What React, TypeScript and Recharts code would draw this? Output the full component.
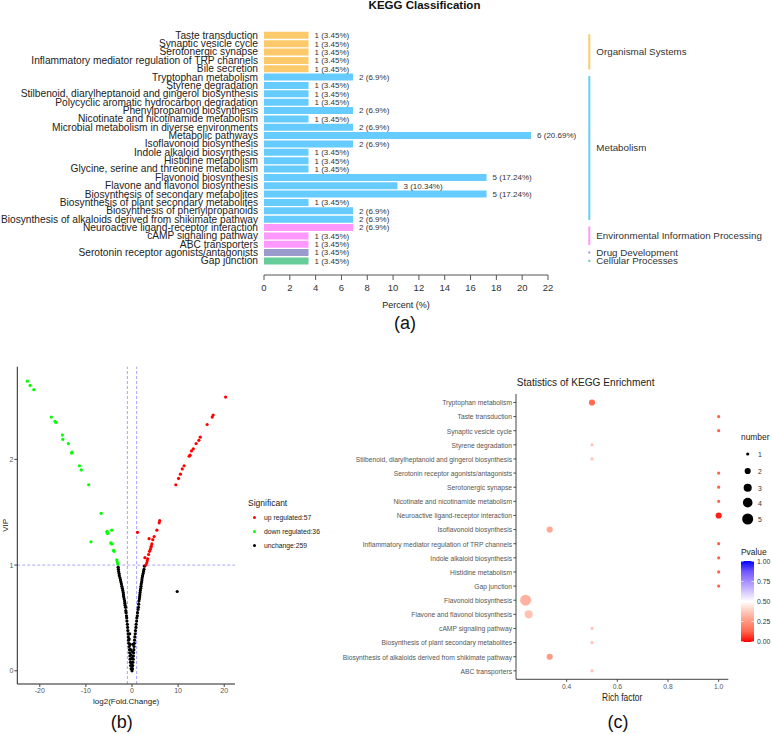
import React from "react";
import {
  Bar,
  BarChart,
  Cell,
  LabelList,
  Legend,
  ReferenceLine,
  Scatter,
  ScatterChart,
  XAxis,
  YAxis,
  ZAxis,
} from "recharts";

const FONT = '"Liberation Sans", Arial, sans-serif';

// ---------- (a) KEGG classification ----------
const pathways = [
  "Taste transduction",
  "Synaptic vesicle cycle",
  "Serotonergic synapse",
  "Inflammatory mediator regulation of TRP channels",
  "Bile secretion",
  "Tryptophan metabolism",
  "Styrene degradation",
  "Stilbenoid, diarylheptanoid and gingerol biosynthesis",
  "Polycyclic aromatic hydrocarbon degradation",
  "Phenylpropanoid biosynthesis",
  "Nicotinate and nicotinamide metabolism",
  "Microbial metabolism in diverse environments",
  "Metabolic pathways",
  "Isoflavonoid biosynthesis",
  "Indole alkaloid biosynthesis",
  "Histidine metabolism",
  "Glycine, serine and threonine metabolism",
  "Flavonoid biosynthesis",
  "Flavone and flavonol biosynthesis",
  "Biosynthesis of secondary metabolites",
  "Biosynthesis of plant secondary metabolites",
  "Biosynthesis of phenylpropanoids",
  "Biosynthesis of alkaloids derived from shikimate pathway",
  "Neuroactive ligand-receptor interaction",
  "cAMP signaling pathway",
  "ABC transporters",
  "Serotonin receptor agonists/antagonists",
  "Gap junction",
];
const pathwayCounts = [1, 1, 1, 1, 1, 2, 1, 1, 1, 2, 1, 2, 6, 2, 1, 1, 1, 5, 3, 5, 1, 2, 2, 2, 1, 1, 1, 1];
const pathwayPercents = [
  3.45, 3.45, 3.45, 3.45, 3.45, 6.9, 3.45, 3.45, 3.45, 6.9, 3.45, 6.9, 20.69, 6.9, 3.45, 3.45, 3.45,
  17.24, 10.34, 17.24, 3.45, 6.9, 6.9, 6.9, 3.45, 3.45, 3.45, 3.45,
];
const OS = "Organismal Systems";
const MET = "Metabolism";
const EIP = "Environmental Information Processing";
const DD = "Drug Development";
const CP = "Cellular Processes";
const pathwayClass = [
  OS, OS, OS, OS, OS,
  MET, MET, MET, MET, MET, MET, MET, MET, MET, MET, MET, MET, MET, MET, MET, MET, MET, MET,
  EIP, EIP, EIP,
  DD,
  CP,
];
const classNames = [OS, MET, EIP, DD, CP];
const percentTicks = [0, 2, 4, 6, 8, 10, 12, 14, 16, 18, 20, 22];

const classColor: Record<string, string> = {
  [OS]: "#FDCA6B",
  [MET]: "#66CCFF",
  [EIP]: "#FF99FF",
  [DD]: "#9A9ACD",
  [CP]: "#66CC99",
};

// ---------- (b) volcano ----------
const upPoints: [number, number][] = [
  [20.3, 2.59], [17.6, 2.42], [17.4, 2.4], [16.3, 2.33], [14.8, 2.21], [14.5, 2.18], [13.9, 2.15],
  [13.3, 2.1], [12.9, 2.08], [12.6, 2.04], [12.4, 2.03], [11.3, 1.94], [10.9, 1.91], [10.5, 1.86],
  [10.1, 1.82], [9.5, 1.76], [6.0, 1.42], [5.9, 1.4], [5.4, 1.33], [4.8, 1.27], [4.5, 1.24],
  [4.3, 1.2], [4.1, 1.17], [3.8, 1.13], [3.6, 1.1], [3.4, 1.06], [3.2, 1.02], [2.8, 1.07],
  [3.7, 1.25], [1.2, 1.31], [3.0, 1.0], [3.3, 1.04], [4.0, 1.15], [4.2, 1.18],
];
const downPoints: [number, number][] = [
  [-22.7, 2.74], [-22.1, 2.7], [-21.3, 2.66], [-17.5, 2.4], [-16.7, 2.36], [-16.5, 2.35],
  [-15.1, 2.23], [-15.0, 2.19], [-13.8, 2.15], [-13.1, 2.06], [-13.0, 2.07], [-11.4, 1.94],
  [-11.0, 1.9], [-9.4, 1.76], [-6.7, 1.49], [-5.4, 1.32], [-5.3, 1.3], [-5.4, 1.31], [-4.4, 1.33],
  [-8.9, 1.22], [-4.6, 1.21], [-4.4, 1.2], [-4.0, 1.14], [-3.9, 1.13], [-3.3, 1.05], [-3.2, 1.03],
  [-3.1, 1.01],
];
const unchangedPoints: [number, number][] = [
  [-3.0, 0.98], [-2.95, 0.96], [-2.9, 0.94], [-2.8, 0.92], [-2.75, 0.9], [-2.6, 0.88], [-2.5, 0.86],
  [-2.4, 0.84], [-2.3, 0.82], [-2.2, 0.8], [-2.1, 0.78], [-2.0, 0.76], [-1.9, 0.74], [-1.85, 0.72],
  [-1.8, 0.7], [-1.7, 0.68], [-1.6, 0.66], [-1.55, 0.64], [-1.5, 0.62], [-1.4, 0.6], [-1.35, 0.57],
  [-1.3, 0.55], [-1.2, 0.52], [-1.15, 0.5], [-1.1, 0.47], [-1.0, 0.44], [-0.95, 0.41], [-0.9, 0.38],
  [-0.85, 0.35], [-0.8, 0.32], [-0.75, 0.29], [-0.7, 0.26], [-0.6, 0.23], [-0.55, 0.2], [-0.5, 0.17],
  [-0.45, 0.14], [-0.4, 0.11], [-0.35, 0.08], [-0.3, 0.05], [-0.2, 0.02], [0.0, 0.0],
  [2.7, 0.99], [2.6, 0.96], [2.5, 0.94], [2.4, 0.92], [2.3, 0.9], [2.2, 0.88], [2.15, 0.86],
  [2.1, 0.84], [2.0, 0.82], [1.95, 0.8], [1.9, 0.78], [1.8, 0.76], [1.75, 0.74], [1.7, 0.72],
  [1.65, 0.7], [1.6, 0.68], [1.5, 0.66], [1.45, 0.63], [1.4, 0.6], [1.3, 0.58], [1.2, 0.55],
  [1.15, 0.52], [1.05, 0.5], [1.0, 0.47], [0.9, 0.44], [0.85, 0.41], [0.75, 0.38], [0.7, 0.35],
  [0.6, 0.32], [0.55, 0.29], [0.5, 0.26], [0.45, 0.23], [0.4, 0.2], [0.35, 0.17], [0.3, 0.14],
  [0.25, 0.11], [0.2, 0.08], [0.15, 0.05], [0.1, 0.02],
  [-0.6, 0.3], [-0.4, 0.25], [-0.3, 0.2], [-0.2, 0.15], [0.0, 0.12], [0.1, 0.18], [-0.1, 0.08],
  [0.0, 0.05], [-0.5, 0.35], [0.2, 0.25],
  [9.8, 0.75],
];
const sigLabels = ["up regulated:57", "down regulated:36", "unchange:259"];
const fcTicks = [-20, -10, 0, 10, 20];
const vipTicks = [0, 1, 2];

// ---------- (c) enrichment ----------
const enrichTerms = [
  "Tryptophan metabolism",
  "Taste transduction",
  "Synaptic vesicle cycle",
  "Styrene degradation",
  "Stilbenoid, diarylheptanoid and gingerol biosynthesis",
  "Serotonin receptor agonists/antagonists",
  "Serotonergic synapse",
  "Nicotinate and nicotinamide metabolism",
  "Neuroactive ligand-receptor interaction",
  "Isoflavonoid biosynthesis",
  "Inflammatory mediator regulation of TRP channels",
  "Indole alkaloid biosynthesis",
  "Histidine metabolism",
  "Gap junction",
  "Flavonoid biosynthesis",
  "Flavone and flavonol biosynthesis",
  "cAMP signaling pathway",
  "Biosynthesis of plant secondary metabolites",
  "Biosynthesis of alkaloids derived from shikimate pathway",
  "ABC transporters",
];
const richFactor = [0.5, 1, 1, 0.5, 0.5, 1, 1, 1, 1, 0.333, 1, 1, 1, 1, 0.238, 0.25, 0.5, 0.5, 0.333, 0.5];
const enrichNumber = [2, 1, 1, 1, 1, 1, 1, 1, 2, 2, 1, 1, 1, 1, 5, 3, 1, 1, 2, 1];
const enrichP = [
  0.14, 0.12, 0.12, 0.36, 0.36, 0.12, 0.12, 0.12, 0.04, 0.3, 0.12, 0.12, 0.12, 0.12, 0.32, 0.36, 0.36,
  0.36, 0.26, 0.36,
];
const richTicks = [0.4, 0.6, 0.8, 1.0];
const numberLegend = [1, 2, 3, 4, 5];
const pLegend = [1, 0.75, 0.5, 0.25, 0];

const Z_RANGE: [number, number] = [8, 95];
const gradStops: [number, number[]][] = [
  [0, [255, 0, 0]],
  [0.125, [255, 100, 75]],
  [0.25, [255, 150, 128]],
  [0.375, [255, 200, 186]],
  [0.5, [255, 255, 255]],
  [0.625, [212, 196, 255]],
  [0.75, [165, 140, 255]],
  [0.875, [110, 85, 255]],
  [1, [0, 0, 255]],
];
function pColor(p: number) {
  for (let i = 1; i < gradStops.length; i++) {
    const [t1, c1] = gradStops[i];
    const [t0, c0] = gradStops[i - 1];
    if (p <= t1) {
      const f = (p - t0) / (t1 - t0);
      const c = c0.map((v, k) => Math.round(v + (c1[k] - v) * f));
      return `rgb(${c[0]},${c[1]},${c[2]})`;
    }
  }
  return "rgb(0,0,255)";
}
function sizeRadius(n: number) {
  const area = Z_RANGE[0] + ((n - 1) / 4) * (Z_RANGE[1] - Z_RANGE[0]);
  return Math.sqrt(area / Math.PI);
}

// text squeezed horizontally (the ggplot panels use a narrow face)
function Squeezed({ x, y, sx = 0.86, anchor = "start", size, fill = "#222", dy = "0.35em", children }: any) {
  return (
    <text
      x={0}
      y={0}
      dy={dy}
      transform={`translate(${x},${y}) scale(${sx},1)`}
      textAnchor={anchor}
      fontSize={size}
      fill={fill}
      fontFamily={FONT}
    >
      {children}
    </text>
  );
}

function PathwayTick({ x, y, payload }: any) {
  return (
    <text x={x} y={y} dy="0.35em" textAnchor="end" fontSize={10.2} fill="#222" fontFamily={FONT}>
      {payload.value}
    </text>
  );
}

function TermTick({ x, y, payload }: any) {
  return (
    <Squeezed x={x} y={y} sx={0.84} anchor="end" size={8} fill="#555">
      {payload.value}
    </Squeezed>
  );
}

function RichTick({ x, y, payload }: any) {
  return (
    <Squeezed x={x} y={y} sx={0.86} anchor="middle" size={7.8} fill="#555" dy="0.75em">
      {Number(payload.value).toFixed(1)}
    </Squeezed>
  );
}

function KeggBars() {
  const data = pathways.map((name, i) => ({
    name,
    pct: pathwayPercents[i],
    tag: `${pathwayCounts[i]} (${pathwayPercents[i]}%)`,
    cls: pathwayClass[i],
  }));
  return (
    <BarChart
      width={772}
      height={310}
      data={data}
      layout="vertical"
      barCategoryGap="10%"
      margin={{ top: 31, right: 224, bottom: 0, left: 4 }}
    >
      <XAxis
        type="number"
        domain={[0, 22]}
        ticks={percentTicks}
        height={35}
        tickSize={5}
        tickMargin={4}
        tick={{ fontSize: 9.5, fill: "#333", fontFamily: FONT }}
        tickLine={{ stroke: "#555" }}
        axisLine={{ stroke: "#555" }}
        label={{ value: "Percent (%)", position: "insideBottom", offset: 2, fontSize: 9, fill: "#222", fontFamily: FONT }}
      />
      <YAxis
        type="category"
        dataKey="name"
        width={260}
        interval={0}
        tickLine={false}
        axisLine={false}
        tickSize={4}
        tickMargin={2}
        padding={{ top: 0, bottom: 10 }}
        tick={<PathwayTick />}
      />
      <Bar dataKey="pct" isAnimationActive={false}>
        {data.map((d) => (
          <Cell key={d.name} fill={classColor[d.cls]} />
        ))}
        <LabelList dataKey="tag" position="right" offset={6} fontSize={8} fill="#333" fontFamily={FONT} />
      </Bar>
      {classNames.map((g) => {
        const first = pathways[pathwayClass.indexOf(g)];
        const last = pathways[pathwayClass.lastIndexOf(g)];
        return (
          <ReferenceLine
            key={g}
            segment={[
              { x: 25.2, y: first },
              { x: 25.2, y: last },
            ]}
            stroke={classColor[g]}
            strokeWidth={2}
            strokeLinecap="square"
            ifOverflow="visible"
            label={(p: any) => {
              const vb = p?.viewBox ?? {};
              return (
                <text
                  x={(vb.x ?? 0) + 7}
                  y={(vb.y ?? 0) + (vb.height ?? 0) / 2}
                  dy="0.35em"
                  fontSize={9.8}
                  fill="#333"
                  fontFamily={FONT}
                >
                  {g}
                </text>
              );
            }}
          />
        );
      })}
    </BarChart>
  );
}

function SigLegend({ payload }: any) {
  return (
    <div style={{ fontFamily: FONT, color: "#222" }}>
      <div style={{ fontSize: 8.5, lineHeight: "12px", height: 12, marginBottom: 2 }}>Significant</div>
      {(payload ?? []).map((item: any) => (
        <div key={item.value} style={{ height: 14, lineHeight: "14px", fontSize: 6.8, display: "flex", alignItems: "center" }}>
          <span style={{ width: 3, height: 3, borderRadius: 2, background: item.color, marginLeft: 5, marginRight: 8 }} />
          <span>{item.value}</span>
        </div>
      ))}
    </div>
  );
}

const Dot = (p: any) => <circle cx={p.cx} cy={p.cy} r={1.6} fill={p.fill} />;

function Volcano() {
  const toRows = (pts: [number, number][]) => pts.map(([fc, vip]) => ({ fc, vip }));
  return (
    <ScatterChart width={340} height={350} margin={{ top: 6.7, right: 105, bottom: 1, left: 2.3 }}>
      <XAxis
        type="number"
        dataKey="fc"
        domain={[-24.88, 22.34]}
        allowDataOverflow
        ticks={fcTicks}
        height={25}
        tickSize={3}
        tickMargin={1}
        tick={{ fontSize: 7, fill: "#555", fontFamily: FONT }}
        tickLine={{ stroke: "#444" }}
        axisLine={{ stroke: "#222" }}
        label={{ value: "log2(Fold.Change)", position: "insideBottom", offset: 5, fontSize: 8, fill: "#222", fontFamily: FONT }}
      />
      <YAxis
        type="number"
        dataKey="vip"
        domain={[-0.125, 2.877]}
        allowDataOverflow
        ticks={vipTicks}
        width={15}
        tickSize={3}
        tickMargin={1}
        tick={{ fontSize: 7, fill: "#555", fontFamily: FONT }}
        tickLine={{ stroke: "#444" }}
        axisLine={{ stroke: "#222" }}
        label={(p: any) => {
          const vb = p?.viewBox ?? {};
          const cx = 2;
          const cy = (vb.y ?? 0) + (vb.height ?? 0) / 2;
          return (
            <text x={cx} y={cy} transform={`rotate(-90 ${cx} ${cy})`} textAnchor="middle" dy="0.7em" fontSize={8} fill="#222" fontFamily={FONT}>
              VIP
            </text>
          );
        }}
      />
      <ReferenceLine x={-1} stroke="#8F8FFF" strokeDasharray="3 2" strokeWidth={0.8} />
      <ReferenceLine x={1} stroke="#8F8FFF" strokeDasharray="3 2" strokeWidth={0.8} />
      <ReferenceLine y={1} stroke="#8F8FFF" strokeDasharray="3 2" strokeWidth={0.8} />
      <Scatter name={sigLabels[2]} data={toRows(unchangedPoints)} fill="#000000" shape={Dot} isAnimationActive={false} />
      <Scatter name={sigLabels[1]} data={toRows(downPoints)} fill="#00FF00" shape={Dot} isAnimationActive={false} />
      <Scatter name={sigLabels[0]} data={toRows(upPoints)} fill="#FF0000" shape={Dot} isAnimationActive={false} />
      <Legend
        layout="vertical"
        align="center"
        verticalAlign="middle"
        content={(props: any) => {
          const items = [...(props.payload ?? [])].sort(
            (a: any, b: any) => sigLabels.indexOf(a.value) - sigLabels.indexOf(b.value)
          );
          return <SigLegend payload={items} />;
        }}
        wrapperStyle={{ left: 248, top: 136.7, width: 90 }}
      />
    </ScatterChart>
  );
}

function Enrichment() {
  const data = enrichTerms.map((term, i) => ({
    term,
    rich: richFactor[i],
    num: enrichNumber[i],
    p: enrichP[i],
  }));
  return (
    <ScatterChart width={442} height={364} margin={{ top: 24, right: 43.7, bottom: 30.7, left: 64 }}>
      <XAxis
        type="number"
        dataKey="rich"
        domain={[0.2, 1.038]}
        allowDataOverflow
        ticks={richTicks}
        height={24}
        tickSize={2.5}
        tickMargin={1.5}
        tick={<RichTick />}
        tickLine={{ stroke: "#444" }}
        axisLine={{ stroke: "#444" }}
        label={(p: any) => {
          const vb = p?.viewBox ?? {};
          return (
            <Squeezed x={(vb.x ?? 0) + (vb.width ?? 0) / 2} y={(vb.y ?? 0) + 18} sx={0.84} anchor="middle" size={10}>
              Rich factor
            </Squeezed>
          );
        }}
      />
      <YAxis
        type="category"
        dataKey="term"
        width={122}
        interval={0}
        reversed
        allowDuplicatedCategory={false}
        padding={{ top: 1.4, bottom: 1.4 }}
        tickSize={2.5}
        tickMargin={1.5}
        tick={<TermTick />}
        tickLine={{ stroke: "#444" }}
        axisLine={{ stroke: "#444" }}
      />
      <XAxis xAxisId="top" orientation="top" type="number" domain={[0, 1]} height={0} tick={false} tickLine={false} axisLine={{ stroke: "#444" }} />
      <YAxis yAxisId="right" orientation="right" type="number" domain={[0, 1]} width={0} tick={false} tickLine={false} axisLine={{ stroke: "#444" }} />
      <ZAxis type="number" dataKey="num" domain={[1, 5]} range={Z_RANGE} />
      <Scatter data={data} isAnimationActive={false}>
        {data.map((d) => (
          <Cell key={d.term} fill={pColor(d.p)} />
        ))}
      </Scatter>
    </ScatterChart>
  );
}

function Overlay() {
  const barTop = 561;
  const barH = 81;
  const numberY = [454, 471, 487.7, 502.7, 519];
  return (
    <svg width={772} height={734} style={{ position: "absolute", left: 0, top: 0, pointerEvents: "none" }}>
      <defs>
        <linearGradient id="pgrad" x1="0" y1="1" x2="0" y2="0">
          {gradStops.map(([t, c]) => (
            <stop key={t} offset={`${t * 100}%`} stopColor={`rgb(${c[0]},${c[1]},${c[2]})`} />
          ))}
        </linearGradient>
      </defs>
      <text x={424.5} y={9} textAnchor="middle" fontSize={11.5} fontWeight="bold" fill="#111" fontFamily={FONT}>
        KEGG Classification
      </text>
      <text x={405} y={329} textAnchor="middle" fontSize={18} fill="#111" fontFamily={FONT}>(a)</text>
      <text x={121.7} y={728} textAnchor="middle" fontSize={18} fill="#111" fontFamily={FONT}>(b)</text>
      <text x={618} y={728} textAnchor="middle" fontSize={18} fill="#111" fontFamily={FONT}>(c)</text>

      <Squeezed x={516.7} y={382} sx={0.88} size={11.5}>Statistics of KEGG Enrichment</Squeezed>

      <Squeezed x={741} y={436.7} sx={0.86} size={9.8}>number</Squeezed>
      {numberLegend.map((n, i) => (
        <g key={n}>
          <circle cx={747.7} cy={numberY[i]} r={sizeRadius(n)} fill="#000" />
          <Squeezed x={758} y={numberY[i]} sx={0.86} size={8} fill="#333">{n}</Squeezed>
        </g>
      ))}

      <Squeezed x={741} y={552} sx={0.86} size={9.8}>Pvalue</Squeezed>
      <rect x={741} y={barTop} width={13} height={barH} fill="url(#pgrad)" />
      {pLegend.map((v) => {
        const y = barTop + 0.5 + (1 - v) * (barH - 1);
        return (
          <g key={v}>
            <line x1={741} x2={743.6} y1={y} y2={y} stroke="#fff" strokeWidth={0.6} />
            <line x1={751.4} x2={754} y1={y} y2={y} stroke="#fff" strokeWidth={0.6} />
            <Squeezed x={757} y={y} sx={0.86} size={8} fill="#333">{v.toFixed(2)}</Squeezed>
          </g>
        );
      })}
    </svg>
  );
}

export default function App() {
  return (
    <div style={{ position: "absolute", left: 0, top: 0, width: 772, height: 734, background: "#fff", fontFamily: FONT }}>
      <div style={{ position: "absolute", left: 0, top: 0 }}>
        <KeggBars />
      </div>
      <div style={{ position: "absolute", left: 0, top: 360 }}>
        <Volcano />
      </div>
      <div style={{ position: "absolute", left: 330, top: 370 }}>
        <Enrichment />
      </div>
      <Overlay />
    </div>
  );
}
